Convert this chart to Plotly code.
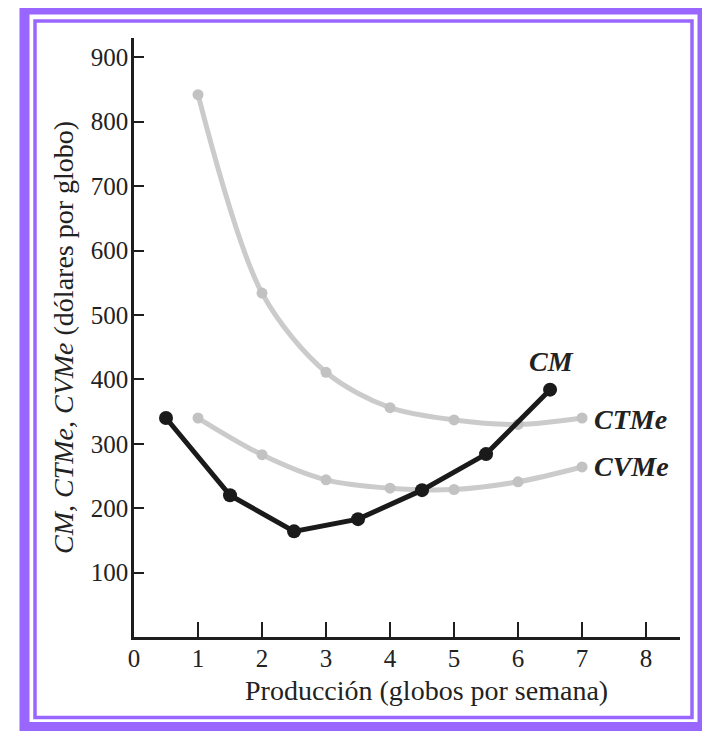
import plotly.graph_objects as go

# The page body has an 8px margin, so the figure is drawn at (8, 8) on screen.
OFF = 8
W, H = 702, 723

# Data
cm_x = [0.5, 1.5, 2.5, 3.5, 4.5, 5.5, 6.5]
cm_y = [340, 220, 164, 183, 228, 284, 384]

ctme_x = [1, 2, 3, 4, 5, 6, 7]
ctme_y = [842, 534, 411, 356, 337, 330, 340]

cvme_x = [1, 2, 3, 4, 5, 6, 7]
cvme_y = [340, 283, 244, 231, 229, 241, 264]

x_ticks = [0, 1, 2, 3, 4, 5, 6, 7, 8]
y_ticks = [100, 200, 300, 400, 500, 600, 700, 800, 900]

series_labels = ["CM", "CTMe", "CVMe"]


def px(x):
    return (x - OFF) / W


def py(y):
    return (H - (y - OFF)) / H


FONT = "Liberation Serif"
AX = "#1e1e1e"
TXT = "#222222"
GRAY_LINE = "#cbcbcb"
GRAY_MARK = "#c2c2c2"
PURPLE = "#9966ff"

fig = go.Figure()

fig.add_trace(go.Scatter(
    x=ctme_x, y=ctme_y, mode="lines+markers",
    line=dict(color=GRAY_LINE, width=5, shape="spline", smoothing=0.9),
    marker=dict(color=GRAY_MARK, size=11), showlegend=False, name="CTMe"))
fig.add_trace(go.Scatter(
    x=cvme_x, y=cvme_y, mode="lines+markers",
    line=dict(color=GRAY_LINE, width=5, shape="spline", smoothing=0.9),
    marker=dict(color=GRAY_MARK, size=11), showlegend=False, name="CVMe"))
fig.add_trace(go.Scatter(
    x=cm_x, y=cm_y, mode="lines+markers",
    line=dict(color="#1a1a1a", width=5),
    marker=dict(color="#1a1a1a", size=14), showlegend=False, name="CM"))

# series labels next to line ends
lab_font = dict(family=FONT, size=28, color=TXT)
fig.add_annotation(x=cm_x[-1], y=cm_y[-1], text="<b><i>%s</i></b>" % series_labels[0],
                   showarrow=False, xanchor="center", yanchor="middle",
                   yshift=28, xshift=1, font=lab_font)
fig.add_annotation(x=ctme_x[-1], y=ctme_y[-1], text="<b><i>%s</i></b>" % series_labels[1],
                   showarrow=False, xanchor="left", yanchor="middle",
                   xshift=10, yshift=-1, font=lab_font)
fig.add_annotation(x=cvme_x[-1], y=cvme_y[-1], text="<b><i>%s</i></b>" % series_labels[2],
                   showarrow=False, xanchor="left", yanchor="middle",
                   xshift=10, yshift=0, font=lab_font)

# axis titles
fig.add_annotation(xref="paper", yref="paper", x=px(426), y=py(690),
                   xanchor="center", yanchor="middle",
                   text="Producción (globos por semana)", showarrow=False,
                   font=dict(family=FONT, size=28, color=TXT))
fig.add_annotation(xref="paper", yref="paper", x=px(63), y=py(338),
                   xanchor="center", yanchor="middle",
                   text="<i>CM, CTMe, CVMe</i> (dólares por globo)", showarrow=False,
                   textangle=-90, font=dict(family=FONT, size=28, color=TXT))

# decorative purple frame
fig.add_shape(type="rect", xref="paper", yref="paper",
              x0=px(24.5), x1=px(702.5), y0=py(727), y1=py(9.5),
              line=dict(color=PURPLE, width=10), layer="above")
fig.add_shape(type="rect", xref="paper", yref="paper",
              x0=px(35), x1=px(692), y0=py(717.5), y1=py(21),
              line=dict(color=PURPLE, width=3.5), layer="above")

fig.update_layout(
    template="none",
    width=W, height=H,
    margin=dict(l=0, r=0, t=0, b=0, autoexpand=False),
    paper_bgcolor="white", plot_bgcolor="white",
    showlegend=False,
    xaxis=dict(domain=[px(134), px(680)], range=[0, 8.53],
               tickvals=x_ticks, ticktext=[str(v) for v in x_ticks],
               ticks="inside", ticklen=15, tickwidth=2.2, tickcolor=AX,
               showline=True, linecolor=AX, linewidth=2.5,
               showgrid=False, zeroline=False, automargin=False,
               ticklabelstandoff=-3,
               tickfont=dict(family=FONT, size=25, color=TXT)),
    yaxis=dict(domain=[py(637), py(38)], range=[0, 930],
               tickvals=y_ticks, ticktext=[str(v) for v in y_ticks],
               ticks="inside", ticklen=10, tickwidth=2.2, tickcolor=AX,
               showline=True, linecolor=AX, linewidth=2.5,
               showgrid=False, zeroline=False, automargin=False,
               ticklabelstandoff=-2,
               tickfont=dict(family=FONT, size=25, color=TXT)),
)

fig.write_html("out.html")
